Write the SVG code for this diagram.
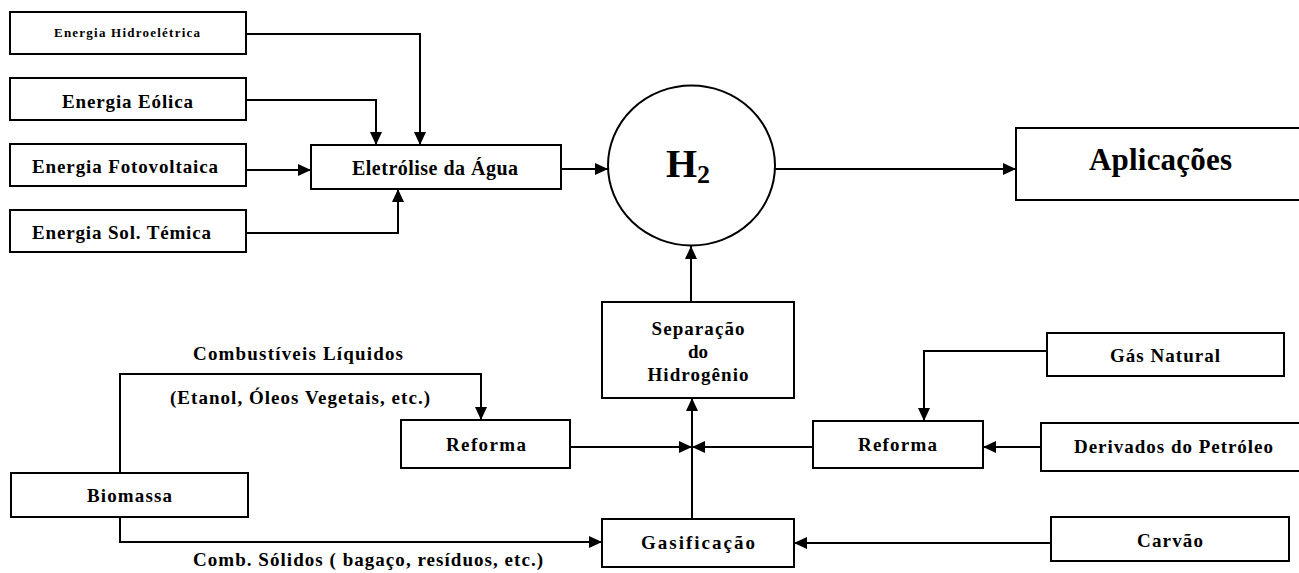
<svg xmlns="http://www.w3.org/2000/svg" width="1299" height="573" viewBox="0 0 1299 573">
<style>
.box{fill:#fff;stroke:#000;stroke-width:2}
.t{font-family:"Liberation Serif","Times New Roman",serif;font-weight:bold;fill:#000;text-anchor:middle}
.c{fill:none;stroke:#000;stroke-width:2}
.a{marker-end:url(#arr)}
</style>
<defs>
<marker id="arr" markerUnits="userSpaceOnUse" markerWidth="13" markerHeight="12" refX="13" refY="6" orient="auto">
<path d="M0,0 L13,6 L0,12 z" fill="#000"/>
</marker>
</defs>
<rect width="1299" height="573" fill="#fff"/>
<g id="connectors">
<path class="c a" d="M246,34 H420 V145"/>
<path class="c a" d="M246,100 H376 V145"/>
<path class="c a" d="M246,170 H311"/>
<path class="c a" d="M246,233 H398 V189"/>
<path class="c a" d="M561,169 H608"/>
<path class="c a" d="M775,169 H1016"/>
<path class="c a" d="M691,302 V246"/>
<path class="c a" d="M570,447 H692"/>
<path class="c a" d="M813,447 H692"/>
<path class="c a" d="M692,447 V398"/>
<path class="c" d="M692,519 V447"/>
<path class="c a" d="M120,473 V374 H481 V420"/>
<path class="c a" d="M120,517 V542 H602"/>
<path class="c a" d="M1047,351 H924 V421"/>
<path class="c a" d="M1041,447 H983"/>
<path class="c a" d="M1051,543 H794"/>
</g>
<g id="n-hidro"><rect class="box" x="10" y="12" width="236" height="42"/><text class="t" x="127" y="37" font-size="13" textLength="146" lengthAdjust="spacing">Energia Hidroelétrica</text></g>
<g id="n-eolica"><rect class="box" x="10" y="78" width="236" height="42"/><text class="t" x="127.5" y="108" font-size="19" textLength="131" lengthAdjust="spacing">Energia Eólica</text></g>
<g id="n-foto"><rect class="box" x="10" y="144" width="236" height="42"/><text class="t" x="125" y="173" font-size="19" textLength="186" lengthAdjust="spacing">Energia Fotovoltaica</text></g>
<g id="n-sol"><rect class="box" x="10" y="210" width="236" height="42"/><text class="t" x="121.5" y="239" font-size="19" textLength="179" lengthAdjust="spacing">Energia Sol. Témica</text></g>
<g id="n-eletrolise"><rect class="box" x="311" y="145" width="250" height="44"/><text class="t" x="435" y="175" font-size="20" textLength="166" lengthAdjust="spacing">Eletrólise da Água</text></g>
<g id="n-h2"><ellipse cx="691.5" cy="165.5" rx="83.5" ry="80" fill="#fff" stroke="#000" stroke-width="2"/><text class="t" x="688" y="177" font-size="40">H<tspan font-size="26" dy="6">2</tspan></text></g>
<g id="n-aplicacoes"><rect class="box" x="1016" y="128" width="290" height="72"/><text class="t" x="1160.5" y="170" font-size="31" textLength="143" lengthAdjust="spacing">Aplicações</text></g>
<g id="n-separacao"><rect class="box" x="602" y="302" width="192" height="96"/><text class="t" x="698" y="335" font-size="19" textLength="93" lengthAdjust="spacing">Separação</text><text class="t" x="698" y="358" font-size="19">do</text><text class="t" x="698" y="381" font-size="19" textLength="101" lengthAdjust="spacing">Hidrogênio</text></g>
<g id="n-reforma1"><rect class="box" x="401" y="420" width="169" height="48"/><text class="t" x="486" y="451" font-size="19" textLength="80" lengthAdjust="spacing">Reforma</text></g>
<g id="n-reforma2"><rect class="box" x="813" y="421" width="170" height="47"/><text class="t" x="897.5" y="451" font-size="19" textLength="79" lengthAdjust="spacing">Reforma</text></g>
<g id="n-gasnatural"><rect class="box" x="1047" y="333" width="237" height="43"/><text class="t" x="1165" y="362" font-size="19" textLength="110" lengthAdjust="spacing">Gás Natural</text></g>
<g id="n-derivados"><rect class="box" x="1041" y="423" width="265" height="48"/><text class="t" x="1173.5" y="453" font-size="19" textLength="199" lengthAdjust="spacing">Derivados do Petróleo</text></g>
<g id="n-carvao"><rect class="box" x="1051" y="517" width="238" height="44"/><text class="t" x="1170" y="547" font-size="19" textLength="66" lengthAdjust="spacing">Carvão</text></g>
<g id="n-gasificacao"><rect class="box" x="602" y="519" width="192" height="48"/><text class="t" x="698" y="549" font-size="19" textLength="114" lengthAdjust="spacing">Gasificação</text></g>
<g id="n-biomassa"><rect class="box" x="11" y="473" width="237" height="44"/><text class="t" x="129.5" y="502" font-size="19" textLength="85" lengthAdjust="spacing">Biomassa</text></g>
<g id="labels">
<text class="t" x="298" y="360" font-size="19" textLength="210" lengthAdjust="spacing">Combustíveis Líquidos</text>
<text class="t" x="300" y="404" font-size="19" textLength="260" lengthAdjust="spacing">(Etanol, Óleos Vegetais, etc.)</text>
<text class="t" x="368" y="566" font-size="19" textLength="350" lengthAdjust="spacing">Comb. Sólidos ( bagaço, resíduos, etc.)</text>
</g>
</svg>
